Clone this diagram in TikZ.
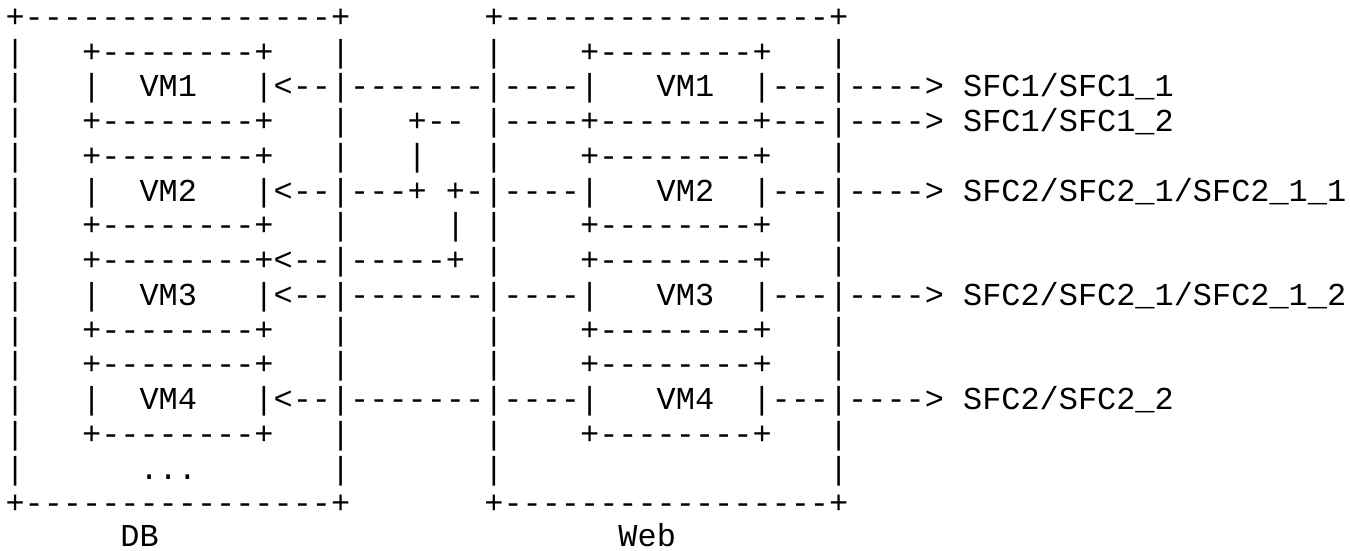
\documentclass[tikz,border=0pt]{standalone}
\usepackage{fontspec}
\setmonofont{Liberation Mono}
\tikzset{
  asciirow/.style={anchor=base west, inner sep=0pt, outer sep=0pt,
    font=\ttfamily\fontsize{31.92}{34.75}\selectfont, text=black}
}
\begin{document}
\begin{tikzpicture}[x=1pt,y=1pt]
  \useasboundingbox (0,0) rectangle (1350,-550);
  % one monospaced line per row: baseline = 27.3 + 34.75*i
  \node[asciirow] (r0)  at (5.5,-27.3)   {+----------------+~~~~~~~+-----------------+};
  \node[asciirow] (r1)  at (5.5,-62.05)  {|~~~+--------+~~~|~~~~~~~|~~~~+--------+~~~|};
  \node[asciirow] (r2)  at (5.5,-96.8)   {|~~~|~~VM1~~~|<--|-------|----|~~~VM1~~|---|---->~SFC1/SFC1\_1};
  \node[asciirow] (r3)  at (5.5,-131.55) {|~~~+--------+~~~|~~~+--~|----+--------+---|---->~SFC1/SFC1\_2};
  \node[asciirow] (r4)  at (5.5,-166.3)  {|~~~+--------+~~~|~~~|~~~|~~~~+--------+~~~|};
  \node[asciirow] (r5)  at (5.5,-201.05) {|~~~|~~VM2~~~|<--|---+~+-|----|~~~VM2~~|---|---->~SFC2/SFC2\_1/SFC2\_1\_1};
  \node[asciirow] (r6)  at (5.5,-235.8)  {|~~~+--------+~~~|~~~~~|~|~~~~+--------+~~~|};
  \node[asciirow] (r7)  at (5.5,-270.55) {|~~~+--------+<--|-----+~|~~~~+--------+~~~|};
  \node[asciirow] (r8)  at (5.5,-305.3)  {|~~~|~~VM3~~~|<--|-------|----|~~~VM3~~|---|---->~SFC2/SFC2\_1/SFC2\_1\_2};
  \node[asciirow] (r9)  at (5.5,-340.05) {|~~~+--------+~~~|~~~~~~~|~~~~+--------+~~~|};
  \node[asciirow] (r10) at (5.5,-374.8)  {|~~~+--------+~~~|~~~~~~~|~~~~+--------+~~~|};
  \node[asciirow] (r11) at (5.5,-409.55) {|~~~|~~VM4~~~|<--|-------|----|~~~VM4~~|---|---->~SFC2/SFC2\_2};
  \node[asciirow] (r12) at (5.5,-444.3)  {|~~~+--------+~~~|~~~~~~~|~~~~+--------+~~~|};
  \node[asciirow] (r13) at (5.5,-479.05) {|~~~~~~...~~~~~~~|~~~~~~~|~~~~~~~~~~~~~~~~~|};
  \node[asciirow] (r14) at (5.5,-513.8)  {+----------------+~~~~~~~+-----------------+};
  \node[asciirow] (r15) at (5.5,-546.7)  {~~~~~~DB~~~~~~~~~~~~~~~~~~~~~~~~Web};
\end{tikzpicture}
\end{document}
